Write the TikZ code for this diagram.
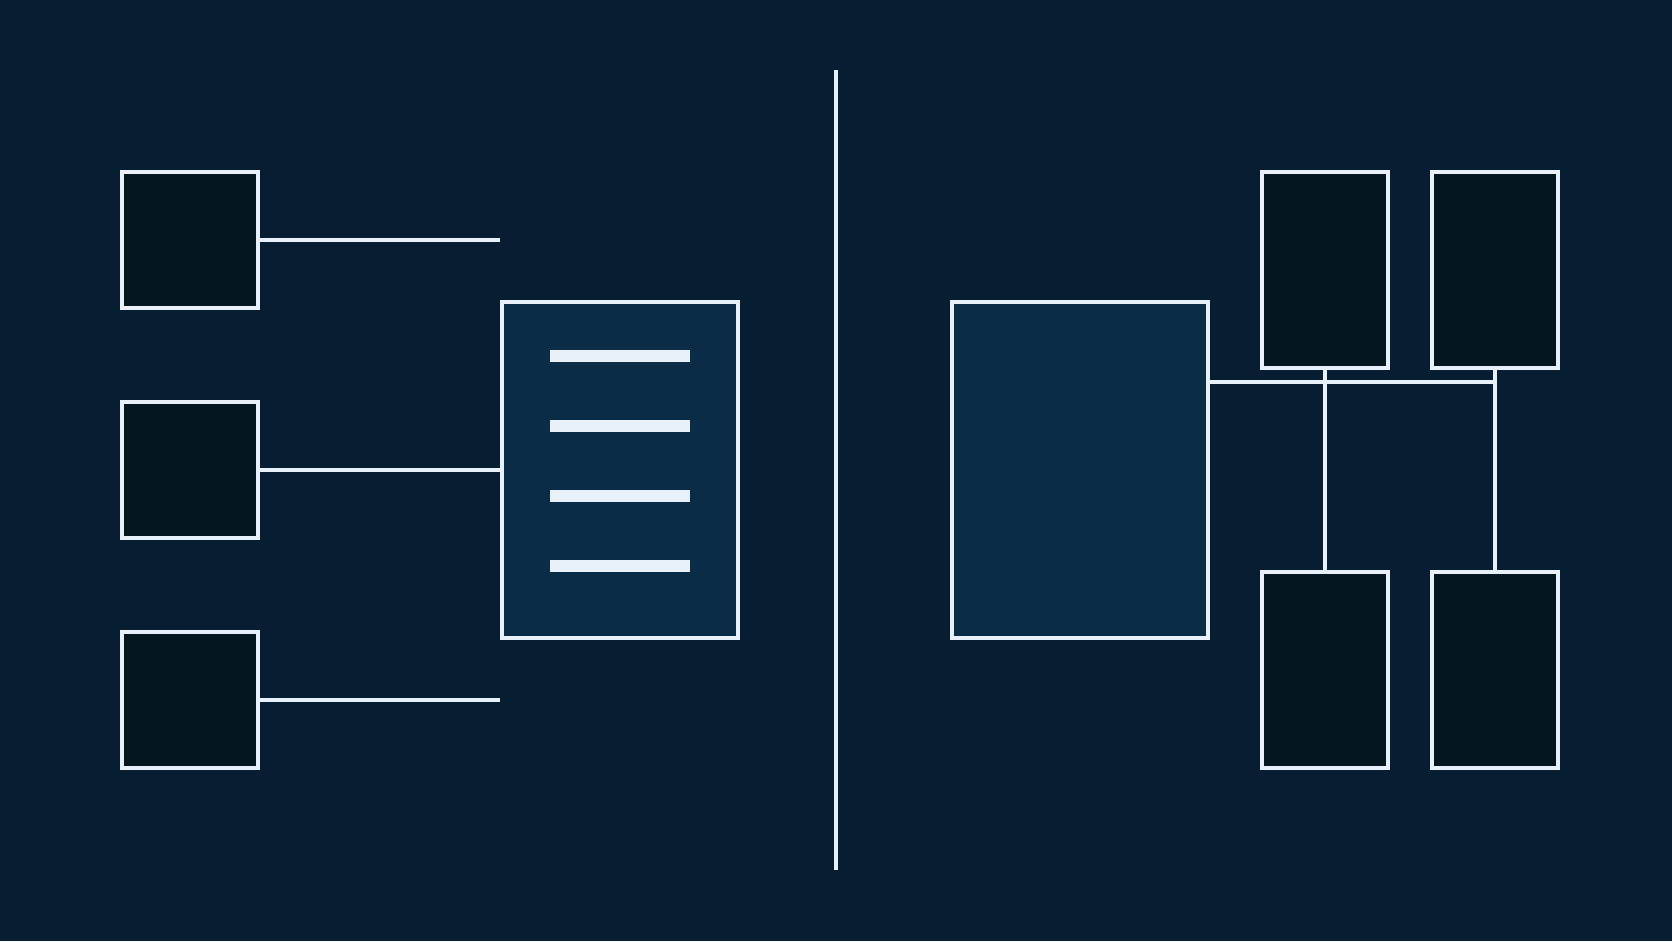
\documentclass[tikz,border=0pt]{standalone}
\usepackage{tikz}
\usetikzlibrary{positioning}
\definecolor{bgnavy}{RGB}{7,30,50}
\definecolor{panelblue}{RGB}{11,44,70}
\definecolor{cellblack}{RGB}{4,22,32}
\definecolor{linewhite}{RGB}{232,240,250}

\begin{document}
\begin{tikzpicture}[
        x=0.01cm, y=-0.01cm,
        cell/.style={rectangle, draw=linewhite, line width=0.04cm, fill=cellblack, inner sep=0pt},
        sq/.style={cell, minimum width=1.36cm, minimum height=1.36cm},
        tall/.style={cell, minimum width=1.26cm, minimum height=1.96cm},
        panel/.style={rectangle, draw=linewhite, line width=0.04cm, fill=panelblue, inner sep=0pt, minimum height=3.36cm},
        wire/.style={draw=linewhite, line width=0.04cm}
    ]
        \fill[bgnavy] (0,0) rectangle (1672,941);
        \useasboundingbox (0,0) rectangle (1672,941);

        % Left side: three cells feeding one list
        \node[sq] (src1) at (190,240) {};
        \node[sq] (src2) at (190,470) {};
        \node[sq] (src3) at (190,700) {};
        \node[panel, minimum width=2.36cm] (list) at (620,470) {};
        \foreach \y in {356,426,496,566}
            \fill[linewhite] (550,\y-6) rectangle (690,\y+6);

        \coordinate (end1) at (src1.east -| list.west);
        \coordinate (end3) at (src3.east -| list.west);
        \draw[wire] (src1.east) -- (end1);
        \draw[wire] (src2) -- (list);
        \draw[wire] (src3.east) -- (end3);

        % Divider
        \coordinate (divtop) at (836,70);
        \coordinate (divbot) at (836,870);
        \draw[wire] (divtop) -- (divbot);

        % Right side: one block with a grid of cells
        \node[panel, minimum width=2.56cm] (block) at (1080,470) {};
        \node[tall] (up1) at (1325,270) {};
        \node[tall, right=0.4cm of up1] (up2) {};
        \node[tall, below=2cm of up1] (low1) {};
        \node[tall, below=2cm of up2] (low2) {};

        \coordinate (bus) at (up2.south |- 0,382);
        \draw[wire] (block.east |- bus) -- (bus);
        \draw[wire] (up1) -- (low1);
        \draw[wire] (up2) -- (low2);
    \end{tikzpicture}
\end{document}
